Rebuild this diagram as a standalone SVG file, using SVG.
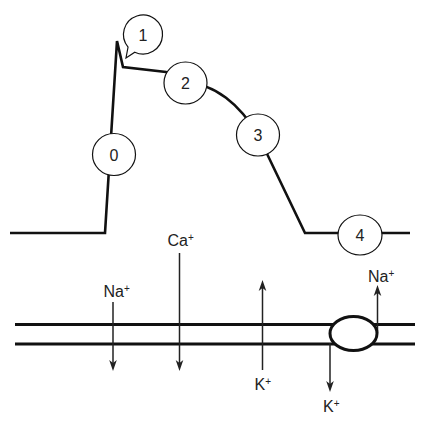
<svg xmlns="http://www.w3.org/2000/svg" width="429" height="433" viewBox="0 0 429 433">
<style>
.bg{fill:#fff}
.curve{fill:none;stroke:#111;stroke-width:2.6;stroke-linejoin:miter}
.node{fill:#fff;stroke:#111;stroke-width:1.2}
.num{font-family:"Liberation Sans",Arial,sans-serif;font-size:16px;fill:#222;text-anchor:middle}
.lbl{font-family:"Liberation Sans",Arial,sans-serif;font-size:16px;fill:#222}
.sup{font-size:10px}
.arr{fill:none;stroke:#222;stroke-width:1.5;marker-end:url(#ah)}
.mem{fill:none;stroke:#111;stroke-width:3}
.pump{fill:#fff;stroke:#111;stroke-width:3}
</style>
<defs>
<marker id="ah" markerUnits="userSpaceOnUse" viewBox="-12 -5 14 10" markerWidth="14" markerHeight="10" refX="-4" refY="0" orient="auto">
<path d="M0,0 L-11,-3.8 L-8,0 L-11,3.8 Z" fill="#222"/>
</marker>
</defs>
<rect class="bg" x="0" y="0" width="429" height="433"/>
<g id="connectors">
<path class="curve" d="M10,233 H105 L117,41 L123,67 L166,72 L185,83 C215,83 240,105 258,135 L305,233 H410"/>
<line class="mem" x1="15" y1="324.5" x2="415" y2="324.5"/>
<line class="mem" x1="15" y1="344" x2="415" y2="344"/>
<line class="arr" x1="113" y1="302" x2="113" y2="367"/>
<line class="arr" x1="179.5" y1="253" x2="179.5" y2="367"/>
<line class="arr" x1="262.5" y1="370" x2="262.5" y2="284"/>
<line class="arr" x1="330" y1="343" x2="330" y2="388"/>
<line class="arr" x1="377.5" y1="333" x2="377.5" y2="289"/>
</g>
<g id="pump">
<ellipse class="pump" cx="353.5" cy="333.5" rx="23.5" ry="17"/>
</g>
<g id="phase0">
<ellipse class="node" cx="114" cy="154.5" rx="21.5" ry="21"/>
<text class="num" x="114" y="160.5">0</text>
</g>
<g id="phase1">
<path class="node" d="M134.76,52.17 A19.5,19.5 0 1 0 128.06,47.03 L126,58 Z"/>
<text class="num" x="143" y="40.5">1</text>
</g>
<g id="phase2">
<ellipse class="node" cx="185.5" cy="83" rx="21.5" ry="21"/>
<text class="num" x="185.5" y="89">2</text>
</g>
<g id="phase3">
<ellipse class="node" cx="258" cy="135" rx="21.5" ry="21"/>
<text class="num" x="258" y="141">3</text>
</g>
<g id="phase4">
<ellipse class="node" cx="360" cy="235" rx="22" ry="20"/>
<text class="num" x="360" y="241">4</text>
</g>
<g id="labels">
<text class="lbl" x="103.5" y="296.5">Na<tspan class="sup" dy="-5">+</tspan></text>
<text class="lbl" x="167.5" y="245.5">Ca<tspan class="sup" dy="-5">+</tspan></text>
<text class="lbl" x="254.5" y="390">K<tspan class="sup" dy="-5">+</tspan></text>
<text class="lbl" x="323" y="412">K<tspan class="sup" dy="-5">+</tspan></text>
<text class="lbl" x="368" y="282">Na<tspan class="sup" dy="-5">+</tspan></text>
</g>
</svg>
